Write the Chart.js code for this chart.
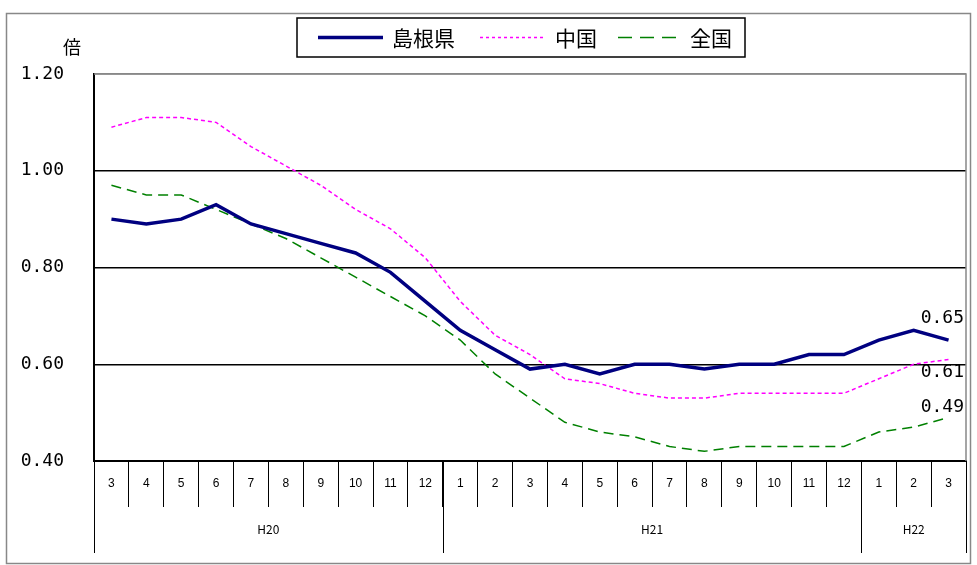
<!DOCTYPE html>
<html>
<head>
<meta charset="utf-8">
<script src="https://cdn.jsdelivr.net/npm/chart.js@4/dist/chart.umd.min.js"></script>
<style>
  html, body { margin: 0; padding: 0; background: #fff; }
</style>
</head>
<body>
<canvas id="grafico" width="977" height="565"></canvas>
<script>
// 月ラベル（H20.3 ～ H22.3）
const meses = ['3','4','5','6','7','8','9','10','11','12',
               '1','2','3','4','5','6','7','8','9','10','11','12',
               '1','2','3'];
// 年ラベル: [ラベル, 開始インデックス, 終了インデックス]
const anos = [['H20', 0, 9], ['H21', 10, 21], ['H22', 22, 24]];

const shimane = [0.90, 0.89, 0.90, 0.93, 0.89, 0.87, 0.85, 0.83, 0.79, 0.73,
                 0.67, 0.63, 0.59, 0.60, 0.58, 0.60, 0.60, 0.59, 0.60, 0.60, 0.62, 0.62,
                 0.65, 0.67, 0.65];
const chugoku = [1.09, 1.11, 1.11, 1.10, 1.05, 1.01, 0.97, 0.92, 0.88, 0.82,
                 0.73, 0.66, 0.62, 0.57, 0.56, 0.54, 0.53, 0.53, 0.54, 0.54, 0.54, 0.54,
                 0.57, 0.60, 0.61];
const zenkoku = [0.97, 0.95, 0.95, 0.92, 0.89, 0.86, 0.82, 0.78, 0.74, 0.70,
                 0.65, 0.58, 0.53, 0.48, 0.46, 0.45, 0.43, 0.42, 0.43, 0.43, 0.43, 0.43,
                 0.46, 0.47, 0.49];

const fonteNum = '"DejaVu Sans Mono", monospace';
const fonteJp = '"Noto Sans CJK JP", sans-serif';

// 凡例・枠・年ラベル・最終値ラベルを描くプラグイン
const extras = {
    id: 'extras',
    beforeDraw(chart) {
        const ctx = chart.ctx;
        ctx.save();
        ctx.fillStyle = '#fff';
        ctx.fillRect(0, 0, chart.width, chart.height);
        ctx.strokeStyle = '#888';
        ctx.lineWidth = 1.5;
        ctx.strokeRect(6.5, 13.5, 964, 550);
        ctx.restore();
    },
    afterDraw(chart) {
        const ctx = chart.ctx;
        const x = chart.scales.x;
        const area = chart.chartArea;
        const meio = (x.getPixelForValue(1) - x.getPixelForValue(0)) / 2;
        ctx.save();

        // 枠（上・右）
        ctx.strokeStyle = '#888';
        ctx.lineWidth = 1.5;
        ctx.beginPath();
        ctx.moveTo(area.left, area.top);
        ctx.lineTo(area.right, area.top);
        ctx.lineTo(area.right, area.bottom);
        ctx.stroke();

        // 年の区切りとラベル
        ctx.strokeStyle = '#000';
        ctx.lineWidth = 1;
        ctx.fillStyle = '#000';
        ctx.font = '12px ' + fonteJp;
        ctx.textAlign = 'center';
        ctx.textBaseline = 'middle';
        anos.forEach(([rot, ini, fim]) => {
            const x0 = x.getPixelForValue(ini) - meio;
            const x1 = x.getPixelForValue(fim) + meio;
            [x0, x1].forEach(px => {
                ctx.beginPath();
                ctx.moveTo(Math.round(px) + 0.5, area.bottom);
                ctx.lineTo(Math.round(px) + 0.5, 553);
                ctx.stroke();
            });
            ctx.fillText(rot, (x0 + x1) / 2, 529);
        });

        // 最終値ラベル
        ctx.font = '18px ' + fonteNum;
        ctx.textAlign = 'right';
        const desloc = [-22, 13, -10];
        chart.data.datasets.forEach((ds, i) => {
            const pt = chart.getDatasetMeta(i).data[ds.data.length - 1];
            ctx.fillText(ds.data[ds.data.length - 1].toFixed(2), 964, pt.y + desloc[i]);
        });

        // 凡例
        const bx = 297, by = 18, bw = 448, bh = 39;
        ctx.strokeStyle = '#000';
        ctx.lineWidth = 1.5;
        ctx.strokeRect(bx, by, bw, bh);
        const cy = by + bh / 2;
        const itens = [[318, 383, 392, []], [480, 545, 555, [3, 3]], [618, 676, 690, [14, 8]]];
        ctx.font = '21px ' + fonteJp;
        ctx.textAlign = 'left';
        chart.data.datasets.forEach((ds, i) => {
            const [a, b, t, tr] = itens[i];
            ctx.strokeStyle = ds.borderColor;
            ctx.lineWidth = ds.borderWidth;
            ctx.setLineDash(tr);
            ctx.beginPath();
            ctx.moveTo(a, cy);
            ctx.lineTo(b, cy);
            ctx.stroke();
            ctx.setLineDash([]);
            ctx.fillStyle = '#000';
            ctx.fillText(ds.label, t, cy + 1);
        });

        // 単位
        ctx.font = '18px ' + fonteJp;
        ctx.textAlign = 'center';
        ctx.fillText('倍', 72, 47);
        ctx.restore();
    }
};

new Chart(document.getElementById('grafico').getContext('2d'), {
    type: 'line',
    data: {
        labels: meses,
        datasets: [
            { label: '島根県', data: shimane, borderColor: '#000080', borderWidth: 3.5,
              pointRadius: 0, tension: 0 },
            { label: '中国', data: chugoku, borderColor: '#ff00ff', borderWidth: 1.5,
              borderDash: [4, 3], pointRadius: 0, tension: 0 },
            { label: '全国', data: zenkoku, borderColor: '#008000', borderWidth: 1.5,
              borderDash: [10, 6], pointRadius: 0, tension: 0 }
        ]
    },
    options: {
        responsive: false,
        animation: false,
        events: [],
        layout: { padding: { left: 0, top: 74, right: 11, bottom: 0 } },
        plugins: { legend: { display: false }, tooltip: { enabled: false } },
        scales: {
            x: {
                offset: true,
                border: { color: '#000', width: 2 },
                grid: { offset: true, drawOnChartArea: false, tickLength: 46,
                        color: '#000', lineWidth: 1 },
                ticks: { color: '#000', padding: -31, maxRotation: 0, autoSkip: false,
                         font: { family: '"Liberation Sans Narrow", "Liberation Sans", sans-serif', size: 12 } },
                afterFit(s) { s.height = 104; }
            },
            y: {
                min: 0.4,
                max: 1.2,
                border: { color: '#000', width: 2 },
                grid: { drawTicks: false,
                        color: c => c.tick.value > 1.19 ? '#888' : '#000',
                        lineWidth: 1.5 },
                ticks: { stepSize: 0.2, padding: 30, color: '#000',
                         font: { family: fonteNum, size: 18 },
                         callback: v => v.toFixed(2) },
                afterFit(s) { s.width = 94; }
            }
        }
    },
    plugins: [extras]
});
</script>
</body>
</html>
